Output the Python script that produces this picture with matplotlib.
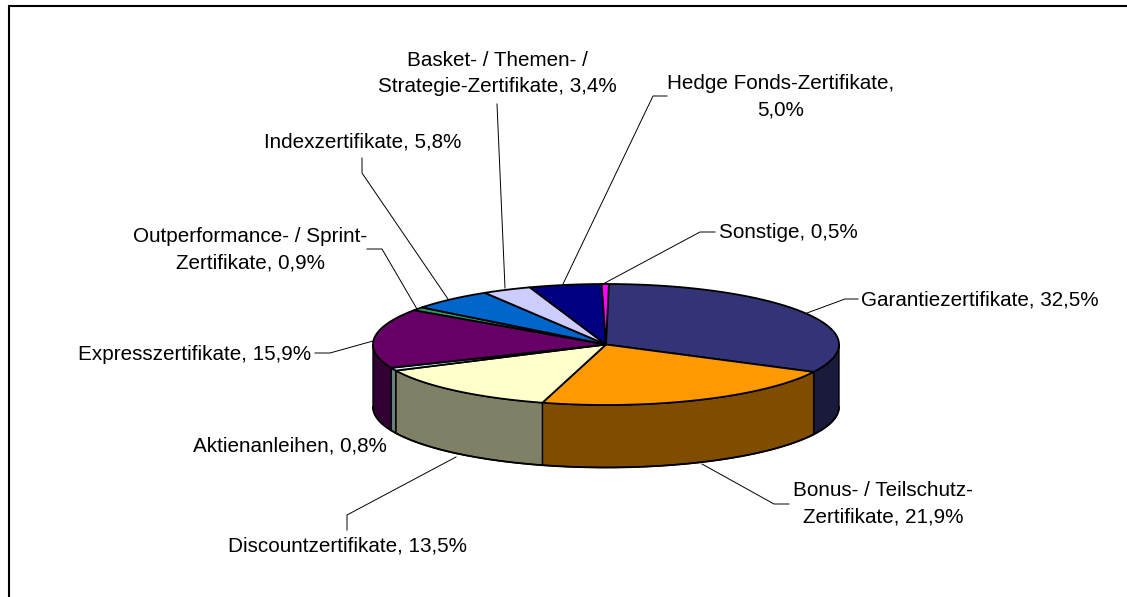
import numpy as np
import matplotlib
matplotlib.use("Agg")
import matplotlib.pyplot as plt
from matplotlib.patches import Polygon

plt.rcParams["font.family"] = ["Liberation Sans", "DejaVu Sans"]

# Daten (Anteile in %), im Uhrzeigersinn ab 12 Uhr
werte = [32.5, 21.9, 13.5, 0.8, 15.9, 0.9, 5.8, 3.4, 5.0, 0.5]
beschriftung = [
    "Garantiezertifikate, 32,5%",
    "Bonus- / Teilschutz-\nZertifikate, 21,9%",
    "Discountzertifikate, 13,5%",
    "Aktienanleihen, 0,8%",
    "Expresszertifikate, 15,9%",
    "Outperformance- / Sprint-\nZertifikate, 0,9%",
    "Indexzertifikate, 5,8%",
    "Basket- / Themen- /\nStrategie-Zertifikate, 3,4%",
    "Hedge Fonds-Zertifikate,\n5,0%",
    "Sonstige, 0,5%",
]
farben = ["#333378", "#ff9900", "#ffffcc", "#ccffff", "#660066",
          "#339966", "#0066cc", "#ccccff", "#000080", "#ff00ff"]

# Layout in Pixeln
text_pos = [(980, 299.5), (883, 504), (347, 546.5), (290, 446), (195, 354),
            (250, 250), (363, 142), (497, 73.5), (781, 97), (788, 232)]
fuehrung = [
    [(858, 299), (845, 299), (807, 313)],
    [(789, 504), (774, 504), (702, 464)],
    [(347, 530), (347, 515), (456, 457)],
    None,
    [(315, 353), (330, 353), (373, 341)],
    [(367, 249), (382, 249), (417, 309)],
    [(362, 158), (362, 173), (448, 299)],
    [(497, 104), (505, 288)],
    [(667, 96), (653, 96), (563, 284)],
    [(715, 232), (700, 232), (603, 284)],
]
cx, cy, rx, ry, tiefe = 606, 344.5, 233, 60.5, 62.5


def ellipse(t):
    return cx + rx * np.sin(t), cy - ry * np.cos(t)


fig = plt.figure(figsize=(11.27, 5.97), dpi=100)
ax = fig.add_axes([0, 0, 1, 1])
ax.set_xlim(0, 1127)
ax.set_ylim(597, 0)
ax.axis("off")

# Rahmen (nur oben und links sichtbar)
ax.plot([9, 9, 1127], [597, 6, 6], color="black", lw=1.5, solid_joinstyle="miter")

grenzen = np.radians(np.concatenate([[0], np.cumsum(werte)]) * 3.6)

# Mantel: nur die vordere Haelfte ist sichtbar
for i, f in enumerate(farben):
    a = max(grenzen[i], np.pi / 2)
    b = min(grenzen[i + 1], 3 * np.pi / 2)
    if b <= a:
        continue
    t = np.linspace(a, b, 60)
    x, y = ellipse(t)
    pts = np.column_stack([np.r_[x, x[::-1]], np.r_[y, y[::-1] + tiefe]])
    rgb = np.array(matplotlib.colors.to_rgb(f)) * 0.5
    ax.add_patch(Polygon(pts, closed=True, fc=rgb, ec="black", lw=1.0, joinstyle="round"))

# untere Kante etwas kraeftiger
t = np.linspace(np.pi / 2, 3 * np.pi / 2, 200)
x, y = ellipse(t)
ax.plot(x, y + tiefe, color="black", lw=1.3)

# Deckel
for i, f in enumerate(farben):
    t = np.linspace(grenzen[i], grenzen[i + 1], 120)
    x, y = ellipse(t)
    pts = np.column_stack([np.r_[cx, x], np.r_[cy, y]])
    ax.add_patch(Polygon(pts, closed=True, fc=f, ec="black", lw=1.3, joinstyle="round"))

# Fuehrungslinien
for linie in fuehrung:
    if linie is None:
        continue
    lx, ly = zip(*linie)
    ax.plot(lx, ly, color="black", lw=0.7)

for txt, (tx, ty) in zip(beschriftung, text_pos):
    ax.text(tx, ty, txt, ha="center", va="center", fontsize=14.9, color="black",
            linespacing=1.5)

fig.savefig("out.png", dpi=100)
